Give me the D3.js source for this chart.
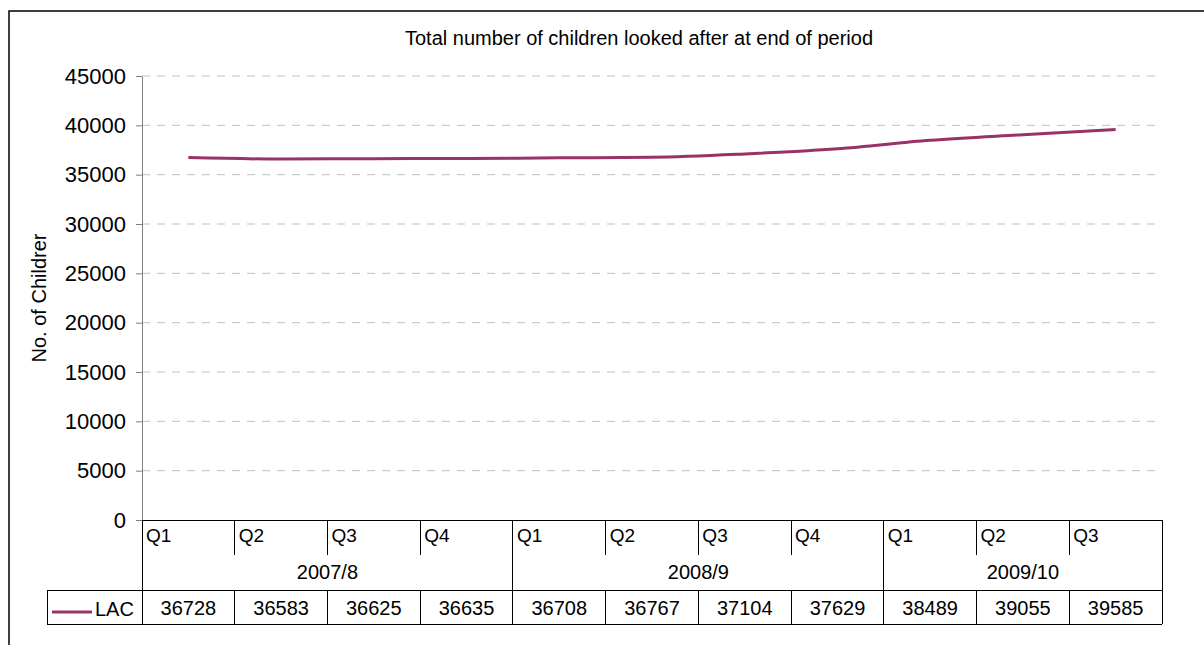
<!DOCTYPE html>
<html>
<head>
<meta charset="utf-8">
<script src="https://cdn.jsdelivr.net/npm/d3@7"></script>
<style>
  html, body { margin: 0; padding: 0; background: #fff; }
  svg { display: block; }
  text { font-family: "Liberation Sans", Arial, sans-serif; fill: #000; }
</style>
</head>
<body>
<svg id="chart" width="1204" height="645"></svg>
<script>
// Quarterly counts of looked-after children
const quarters = ["Q1", "Q2", "Q3", "Q4", "Q1", "Q2", "Q3", "Q4", "Q1", "Q2", "Q3"];
const years = ["2007/8", "2008/9", "2009/10"];
const yearSpans = [4, 4, 3];
const lacValues = [36728, 36583, 36625, 36635, 36708, 36767, 37104, 37629, 38489, 39055, 39585];
const yTicks = [0, 5000, 10000, 15000, 20000, 25000, 30000, 35000, 40000, 45000];
const seriesName = "LAC";
const chartTitle = "Total number of children looked after at end of period";
const yLabel = "No. of Childrer";

const lineColor = "#993366";
const svg = d3.select("#chart");

// Layout
const plotLeft = 142, plotRight = 1162, plotTop = 76, plotBottom = 520;
const rowQ = 555, rowYear = 590, rowVal = 624, tableLeft = 47;

// Outer chart frame
svg.append("rect")
  .attr("x", 9).attr("y", 11).attr("width", 1240).attr("height", 660)
  .attr("fill", "none").attr("stroke", "#000").attr("stroke-width", 1.5);

const x = d3.scaleBand().domain(d3.range(quarters.length)).range([plotLeft, plotRight]).paddingInner(0).paddingOuter(0);
const y = d3.scaleLinear().domain([0, 45000]).range([plotBottom, plotTop]);

// Title
svg.append("text")
  .attr("x", 639).attr("y", 45)
  .attr("text-anchor", "middle")
  .style("font-size", "20px")
  .text(chartTitle);

// Horizontal dashed gridlines
svg.append("g")
  .selectAll("line")
  .data(yTicks.filter(d => d > 0))
  .join("line")
  .attr("x1", plotLeft).attr("x2", plotRight)
  .attr("y1", d => y(d)).attr("y2", d => y(d))
  .attr("stroke", "#c0c0c0").attr("stroke-width", 1)
  .attr("stroke-dasharray", "8,7");

// Y axis
const yAxis = svg.append("g")
  .attr("transform", `translate(${plotLeft},0)`)
  .call(d3.axisLeft(y).tickValues(yTicks).tickSize(6).tickSizeOuter(0).tickPadding(10).tickFormat(d3.format("d")));
yAxis.select(".domain").attr("stroke", "#808080");
yAxis.selectAll(".tick line").attr("stroke", "#808080");
yAxis.selectAll(".tick text")
  .style("font-size", "22px")
  .style("font-family", "'Liberation Sans', Arial, sans-serif")
  .attr("fill", "#000");

// Y axis title
svg.append("text")
  .attr("transform", `translate(46,${(plotTop + plotBottom) / 2}) rotate(-90)`)
  .attr("text-anchor", "middle")
  .style("font-size", "20px")
  .text(yLabel);

// Data table lines
const tbl = svg.append("g").attr("stroke", "#000").attr("stroke-width", 1).attr("shape-rendering", "crispEdges");
// category axis baseline
tbl.append("line").attr("x1", plotLeft).attr("x2", plotRight).attr("y1", plotBottom).attr("y2", plotBottom);
tbl.append("line").attr("x1", tableLeft).attr("x2", plotRight).attr("y1", rowYear).attr("y2", rowYear);
tbl.append("line").attr("x1", tableLeft).attr("x2", plotRight).attr("y1", rowVal).attr("y2", rowVal);
tbl.append("line").attr("x1", tableLeft).attr("x2", tableLeft).attr("y1", rowYear).attr("y2", rowVal);

// quarter dividers
const edges = d3.range(quarters.length + 1).map(i => i < quarters.length ? x(i) : plotRight);
tbl.selectAll(".qdiv").data(edges).join("line")
  .attr("x1", d => d).attr("x2", d => d)
  .attr("y1", plotBottom).attr("y2", rowQ);
tbl.selectAll(".vdiv").data(edges).join("line")
  .attr("x1", d => d).attr("x2", d => d)
  .attr("y1", rowYear).attr("y2", rowVal);

// year group dividers
const yearStarts = yearSpans.reduce((acc, n) => { acc.push(acc[acc.length - 1] + n); return acc; }, [0]);
tbl.selectAll(".ydiv").data(yearStarts).join("line")
  .attr("x1", d => edges[d]).attr("x2", d => edges[d])
  .attr("y1", plotBottom).attr("y2", rowYear);

// Quarter labels
svg.append("g").selectAll("text").data(quarters).join("text")
  .attr("x", (d, i) => x(i) + 4)
  .attr("y", 542)
  .style("font-size", "19px")
  .text(d => d);

// Year labels
svg.append("g").selectAll("text").data(years).join("text")
  .attr("x", (d, i) => (edges[yearStarts[i]] + edges[yearStarts[i + 1]]) / 2)
  .attr("y", 579)
  .attr("text-anchor", "middle")
  .style("font-size", "20px")
  .text(d => d);

// Value row
svg.append("g").selectAll("text").data(lacValues).join("text")
  .attr("x", (d, i) => x(i) + x.bandwidth() / 2)
  .attr("y", 615)
  .attr("text-anchor", "middle")
  .style("font-size", "20px")
  .text(d => d);

// Legend key in table
svg.append("line")
  .attr("x1", 52).attr("x2", 92).attr("y1", 612).attr("y2", 612)
  .attr("stroke", lineColor).attr("stroke-width", 3);
svg.append("text")
  .attr("x", 95).attr("y", 616)
  .style("font-size", "20px")
  .text(seriesName);

// Series line
const line = d3.line()
  .x((d, i) => x(i) + x.bandwidth() / 2)
  .y(d => y(d))
  .curve(d3.curveMonotoneX);
svg.append("path")
  .datum(lacValues)
  .attr("d", line)
  .attr("fill", "none")
  .attr("stroke", lineColor)
  .attr("stroke-width", 3)
  .attr("stroke-linecap", "butt");
</script>
</body>
</html>
